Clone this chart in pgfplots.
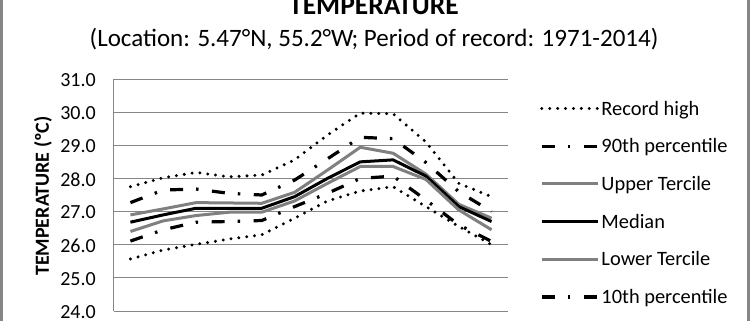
\documentclass[border=0pt]{standalone}
\usepackage{pgfplots}
\usepackage{pgfplotstable}
\pgfplotsset{compat=1.18}
\usepackage{fontspec}
\setmainfont{Carlito}
\definecolor{gridc}{RGB}{134,134,134}
\definecolor{terc}{RGB}{128,128,128}

\pgfplotstableread{
m rh p90 ut med lt p10 rl
0 27.75 27.27 26.90 26.68 26.40 26.11 25.57
1 28.02 27.65 27.08 26.90 26.72 26.45 25.84
2 28.18 27.68 27.27 27.10 26.88 26.68 26.01
3 28.05 27.55 27.26 27.10 26.98 26.70 26.17
4 28.10 27.50 27.25 27.10 26.98 26.73 26.30
5 28.56 27.95 27.58 27.45 27.32 27.15 26.80
6 29.31 28.59 28.25 28.00 27.85 27.55 27.32
7 29.97 29.24 28.94 28.50 28.36 28.00 27.62
8 29.95 29.20 28.76 28.56 28.36 28.07 27.75
9 29.10 28.48 28.13 28.07 27.97 27.35 27.15
10 27.85 27.60 27.22 27.15 27.05 26.60 26.55
11 27.45 27.00 26.80 26.70 26.45 26.10 26.00
}\data

\tikzset{
 dotsty/.style={black, line width=3.3pt, line cap=round, dash pattern=on 0pt off 7.9pt},
 ddsty/.style={black, line width=3.2pt, dash pattern=on 13pt off 13pt on 2.5pt off 13.5pt},
}

\begin{document}
\begin{tikzpicture}[x=1pt,y=1pt]
\useasboundingbox (-114,-10) rectangle (638,311);
\clip (-114,-10) rectangle (638,311);
\begin{axis}[at={(0,0)}, anchor=south west, scale only axis,
  width=394pt, height=232pt,
  xmin=-0.5, xmax=11.5, ymin=24, ymax=31,
  ytick={24,25,...,31}, xtick=\empty,
  axis x line*=bottom, axis y line*=left,
  axis line style={-, draw=gridc, line width=1pt},
  ymajorgrids, grid style={draw=gridc, line width=1pt},
  major tick length=0pt,
  yticklabel style={font=\fontsize{20}{24}\selectfont, anchor=east, inner sep=0pt, xshift=-18pt, yshift=-1pt,
    /pgf/number format/.cd, fixed, fixed zerofill, precision=1, assume math mode=true},
  legend cell align=left,
  legend style={at={(1.0812,0.9052)}, anchor=north west, draw=none, fill=none,
    inner sep=0pt, row sep=19.7pt, column sep=2pt,
    font=\fontsize{20.4}{24}\selectfont,
    nodes={inner sep=0pt, text height=14pt, text depth=4pt}},
  legend image code/.code={\draw[#1] (0pt,1.7pt) -- (56pt,1.7pt);},
]
\addplot[dotsty] table[x=m,y=rh] {\data};
\addlegendentry{Record high}
\addplot[ddsty] table[x=m,y=p90] {\data};
\addlegendentry{90th percentile}
\addplot[terc, line width=3pt] table[x=m,y=ut] {\data};
\addlegendentry{Upper Tercile}
\addplot[black, line width=3pt] table[x=m,y=med] {\data};
\addlegendentry{Median}
\addplot[terc, line width=3pt] table[x=m,y=lt] {\data};
\addlegendentry{Lower Tercile}
\addplot[ddsty] table[x=m,y=p10] {\data};
\addlegendentry{10th percentile}
\addplot[dotsty] table[x=m,y=rl] {\data};
\addlegendentry{Record low}
\end{axis}
\node[font=\bfseries\fontsize{27.5}{32}\selectfont, anchor=base] at (260,296) {TEMPERATURE};
\node[font=\fontsize{25}{30}\selectfont, anchor=base] at (260,264) {(Location: 5.47°N, 55.2°W; Period of record: 1971-2014)};
\node[font=\bfseries\fontsize{20}{24}\selectfont, rotate=90] at (-71,115) {TEMPERATURE (ºC)};
\draw[gridc, line width=2.7pt] (-112.7,-30) -- (-112.7,340);
\draw[gridc, line width=3pt] (634,-30) -- (634,340);
\end{tikzpicture}
\end{document}
